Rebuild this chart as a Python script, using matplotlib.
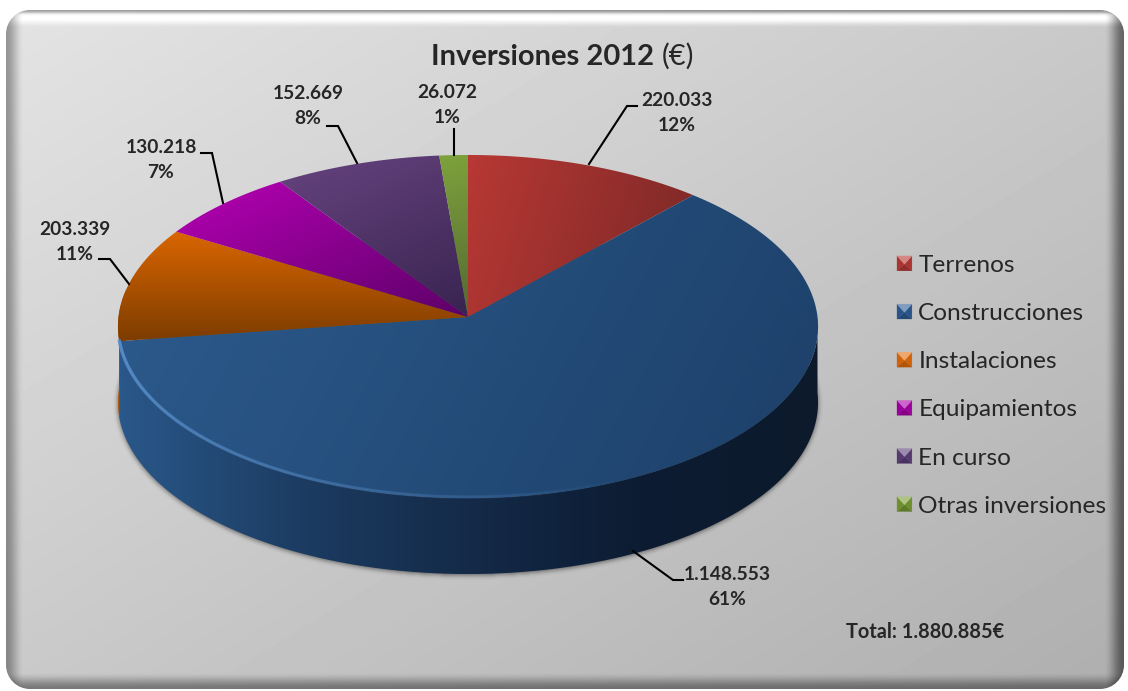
import numpy as np
import matplotlib
matplotlib.use("Agg")
import matplotlib.pyplot as plt
from matplotlib.collections import LineCollection
from matplotlib.legend_handler import HandlerBase
from matplotlib.patches import Patch, PathPatch, Polygon
from matplotlib.path import Path

# Data
categories = ["Terrenos", "Construcciones", "Instalaciones", "Equipamientos", "En curso", "Otras inversiones"]
amounts = [220033, 1148553, 203339, 130218, 152669, 26072]
total_amount = 1880885

W, H = 1128, 691
INK = "#262626"
plt.rcParams["font.family"] = ["Lato", "DejaVu Sans"]

# Top-face gradient: start colour, end colour, direction in pixel space
face_styles = [
    ((184, 56, 52), (130, 42, 40), (1.0, 0.3)),
    ((43, 89, 138), (30, 66, 108), (1.0, 0.55)),
    ((218, 102, 0), (124, 60, 0), (0.0, 1.0)),
    ((168, 0, 168), (92, 0, 104), (0.45, 1.0)),
    ((98, 64, 122), (56, 36, 80), (0.45, 1.0)),
    ((126, 162, 60), (84, 104, 50), (0.2, 1.0)),
]
legend_colors = [(184, 56, 52), (44, 92, 150), (226, 108, 10), (170, 0, 170), (92, 62, 122), (120, 155, 50)]

# Leader lines and label anchors, in figure pixels
leaders = [
    [(589, 164), (627, 106), (637, 106)],
    [(633, 551), (673, 580), (683, 580)],
    [(129, 284), (110, 259), (99, 259)],
    [(223, 203), (212, 153), (201, 153)],
    [(357, 163), (338, 126), (327, 126)],
    [(454, 155), (454, 129)],
]
label_xy = [(677, 100), (727, 574), (75, 229), (161, 147), (308, 93), (447, 92)]

fig = plt.figure(figsize=(W / 100, H / 100), dpi=100, facecolor="white")
ax = fig.add_axes([0, 0, 1, 1])
ax.set_xlim(0, W)
ax.set_ylim(H, 0)
ax.axis("off")
extent = (0, W, H, 0)
yy, xx = np.mgrid[0:H, 0:W] + 0.5


def smooth(a, b, v):
    t = np.clip((v - a) / (b - a), 0, 1)
    return t * t * (3 - 2 * t)


# Panel: rounded rectangle with a diagonal gradient and bevelled edges
x0, x1, y0, y1, rad = 6.0, 1124.0, 10.0, 689.0, 24.0
panel = 228 - 54 * (xx / W + yy / H) / 2
panel = panel + (255 - panel) * (smooth(28, 18, yy) * smooth(10, 17, yy))
panel = panel * (1 - 0.30 * smooth(15, 10, yy))
panel = panel * (1 - 0.34 * smooth(24, 6, xx))
panel = panel * (1 - 0.50 * smooth(1104, 1124, xx))
panel = panel * (1 - 0.40 * smooth(672, 689, yy))
panel_img = ax.imshow(panel, extent=extent, cmap="gray", vmin=0, vmax=255,
                      zorder=1, interpolation="bilinear", aspect="auto")
k = 0.5523 * rad
panel_path = Path(
    [(x0 + rad, y0), (x1 - rad, y0), (x1 - rad + k, y0), (x1, y0 + rad - k), (x1, y0 + rad),
     (x1, y1 - rad), (x1, y1 - rad + k), (x1 - rad + k, y1), (x1 - rad, y1),
     (x0 + rad, y1), (x0 + rad - k, y1), (x0, y1 - rad + k), (x0, y1 - rad),
     (x0, y0 + rad), (x0, y0 + rad - k), (x0 + rad - k, y0), (x0 + rad, y0), (x0 + rad, y0)],
    [1, 2, 4, 4, 4, 2, 4, 4, 4, 2, 4, 4, 4, 2, 4, 4, 4, 79])
panel_img.set_clip_path(PathPatch(panel_path, transform=ax.transData))

# Perspective disc: a circle seen through a homography, hub at (CX, CY)
CX, CY, RX, RY, TILT, DEPTH = 468.0, 317.0, 349.5, 171.0, 0.0554, 76.0


def rim(theta):
    w = 1 + TILT * np.cos(theta)
    return np.column_stack((CX + RX * np.sin(theta) / w, CY - RY * np.cos(theta) / w))


values = np.asarray(amounts, dtype=float)
edges = np.concatenate(([0.0], np.cumsum(values))) / values.sum() * 2 * np.pi


def gradient_fill(poly, c0, c1, direction, zorder):
    dx, dy = direction
    proj = poly[:, 0] * dx + poly[:, 1] * dy
    t = np.clip((xx * dx + yy * dy - proj.min()) / (proj.max() - proj.min()), 0, 1)[..., None]
    rgb = (np.array(c0) * (1 - t) + np.array(c1) * t) / 255
    im = ax.imshow(rgb, extent=extent, zorder=zorder, aspect="auto", interpolation="bilinear")
    im.set_clip_path(Polygon(poly, closed=True, transform=ax.transData))


# Soft shadow below the disc
ring = rim(np.linspace(0, 2 * np.pi, 720)) + (0, DEPTH)
mask = Path(ring).contains_points(np.column_stack((xx.ravel(), yy.ravel() - 1))).reshape(H, W).astype(float)
for _ in range(3):
    kernel = np.ones(5) / 5
    mask = np.apply_along_axis(lambda r: np.convolve(r, kernel, "same"), 0, mask)
    mask = np.apply_along_axis(lambda r: np.convolve(r, kernel, "same"), 1, mask)
shadow = np.zeros((H, W, 4))
shadow[..., 3] = mask * 0.55
ax.imshow(shadow, extent=extent, zorder=2, aspect="auto", interpolation="bilinear")

# Side walls, only the front half of the rim can be seen
for i in [2, 1]:
    lo = max(edges[i], np.pi / 2)
    hi = min(edges[i + 1], 3 * np.pi / 2 + 0.16)
    arc = rim(np.linspace(lo, hi, 200))
    wall = np.vstack((arc, arc[::-1] + (0, DEPTH)))
    if i == 1:
        stops_x = [118, 300, 470, 640, 818]
        stops = np.array([(42, 88, 138), (28, 60, 98), (20, 42, 72), (12, 28, 50), (12, 26, 44)], float)
        rgb = np.dstack([np.interp(xx, stops_x, stops[:, c]) for c in range(3)]) / 255
    else:
        rgb = np.dstack([np.full((H, W), c) for c in (172, 88, 6)]) / 255
    im = ax.imshow(rgb, extent=extent, zorder=3 + 0.1 * (3 - i), aspect="auto", interpolation="bilinear")
    im.set_clip_path(Polygon(wall, closed=True, transform=ax.transData))

# Top faces
for i, (c0, c1, d) in enumerate(face_styles):
    poly = np.vstack(([(CX, CY)], rim(np.linspace(edges[i], edges[i + 1], 240))))
    gradient_fill(poly, c0, c1, d, 4 + 0.01 * i)

# Lit edge along the front of the top face
arc = rim(np.linspace(np.pi * 0.85, edges[2], 300)) + (0, -1.0)
segs = np.stack((arc[:-1], arc[1:]), axis=1)
fade = np.linspace(0, 0.5, len(segs))
ax.add_collection(LineCollection(segs, colors=[(0.35, 0.56, 0.80, a) for a in fade],
                                 linewidths=2.5, zorder=5, capstyle="round"))

# Leader lines and value labels
for pts, amt, (lx, ly) in zip(leaders, amounts, label_xy):
    p = np.array(pts)
    ax.plot(p[:, 0], p[:, 1], color="black", lw=1.5, zorder=6, solid_joinstyle="miter")
    share = round(amt / values.sum() * 100)
    ax.text(lx, ly, f"{amt:,}".replace(",", "."), ha="center", va="center", fontsize=13.8,
            fontweight="bold", color=INK, zorder=7)
    ax.text(lx, ly + 25.5, f"{share}%", ha="center", va="center", fontsize=13.8,
            fontweight="bold", color=INK, zorder=7)

# Title in two weights
ax.text(431, 65, "Inversiones 2012", ha="left", va="baseline", fontsize=21, fontweight="bold", color=INK, zorder=7)
ax.text(662, 65, "(€)", ha="left", va="baseline", fontsize=21, color=INK, zorder=7)

ax.text(846, 632, f"Total: {total_amount:,}€".replace(",", "."), ha="left", va="center",
        fontsize=14.4, fontweight="bold", color=INK, zorder=7)


class BevelSquare(HandlerBase):
    """Legend key drawn as a small square with a lit upper facet."""

    def create_artists(self, legend, handle, xd, yd, width, height, fontsize, trans):
        base = np.array(handle.get_facecolor()[:3])
        light = base + (1 - base) * 0.4
        s = width
        left, bot = -xd, -yd + (height - s) / 2
        a, b = (left, bot), (left + s, bot)
        c, d = (left + s, bot + s), (left, bot + s)
        m = (left + s / 2, bot + s * 0.45)
        out = []
        for tri, col in (([a, b, m], base * 0.78), ([b, c, m], base * 0.92), ([a, d, m], base * 0.92), ([d, c, m], light)):
            out.append(Polygon(tri, closed=True, facecolor=col, edgecolor=col, lw=0.2, transform=trans))
        return out


handles = [Patch(facecolor=np.array(c) / 255) for c in legend_colors]
leg = ax.legend(handles, categories, handler_map={Patch: BevelSquare()}, frameon=False,
                loc="upper left", bbox_to_anchor=(897 / W, 1 - 255 / H), bbox_transform=ax.transAxes,
                fontsize=17.6, labelspacing=1.11, handlelength=0.61, handleheight=0.61,
                handletextpad=0.26, borderpad=0, borderaxespad=0, labelcolor=INK)
leg.set_zorder(7)

fig.savefig("out.png", dpi=100, facecolor="white")
